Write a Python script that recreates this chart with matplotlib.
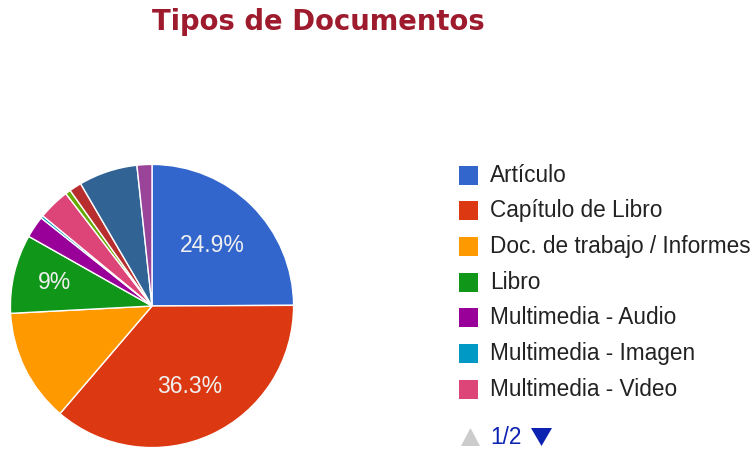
import numpy as np
import matplotlib.pyplot as plt
from matplotlib.patches import Rectangle, Polygon

# Datos del gráfico
categorias = ["Artículo", "Capítulo de Libro", "Doc. de trabajo / Informes", "Libro",
              "Multimedia - Audio", "Multimedia - Imagen", "Multimedia - Video"]
valores = [24.9, 36.3, 12.9, 9.0, 2.5, 0.3, 3.6]
# tipos de la segunda página de la leyenda
valores_pag2 = [0.6, 1.4, 6.7, 1.7]

colores = ["#3366cc", "#dc3912", "#ff9900", "#109618", "#990099", "#0099c6",
           "#dd4477", "#66aa00", "#b82e2e", "#316395", "#994499"]

# porcentaje que se escribe dentro de cada porción (None = sin etiqueta)
etiquetas = ["24.9%", "36.3%", None, "9%"]
dist_etiqueta = [0.60, 0.63, 0.0, 0.71]

W, H = 753, 449
fig = plt.figure(figsize=(W / 100, H / 100), dpi=100)

# Pastel
cx, cy, r = 152, 306, 143
ax = fig.add_axes([(cx - r) / W, (H - cy - r) / H, 2 * r / W, 2 * r / H])
todos = valores + valores_pag2
wedges, _ = ax.pie(todos, colors=colores[:len(todos)], startangle=90, counterclock=False,
                   wedgeprops=dict(edgecolor="white", linewidth=1.0))
ax.set_xlim(-1.01, 1.01)
ax.set_ylim(-1.01, 1.01)
ax.set_aspect("equal")
ax.axis("off")

total = sum(todos)
acum = 0
for i, v in enumerate(todos):
    medio = 90 - 360 * (acum + v / 2) / total
    acum += v
    if i < len(etiquetas) and etiquetas[i]:
        d = dist_etiqueta[i]
        ax.text(d * np.cos(np.radians(medio)), d * np.sin(np.radians(medio)), etiquetas[i],
                ha="center", va="center", color="#f0f0f0", fontsize=16.5,
                family="Liberation Sans")

# Título
fig.text(318 / W, 1 - 22 / H, "Tipos de Documentos", ha="center", va="center",
         fontsize=19.8, fontweight="bold", color="#9e1b2d", family="DejaVu Sans")

# Leyenda (página 1)
y0, paso, lado = 175, 35.7, 19
for i, nombre in enumerate(categorias):
    y = y0 + i * paso
    fig.patches.append(Rectangle((459 / W, 1 - (y + lado / 2) / H), lado / W, lado / H,
                                 transform=fig.transFigure, facecolor=colores[i],
                                 edgecolor="none"))
    fig.text(490 / W, 1 - y / H, nombre, ha="left", va="center", fontsize=16.3,
             color="#222222", family="Liberation Sans")

# Paginador
yp = 437
fig.patches.append(Polygon([[461 / W, 1 - (yp + 9) / H], [480 / W, 1 - (yp + 9) / H],
                            [470.5 / W, 1 - (yp - 9) / H]], closed=True,
                           transform=fig.transFigure, facecolor="#cccccc", edgecolor="none"))
fig.text(490 / W, 1 - yp / H, "1/2", ha="left", va="center", fontsize=16.3,
         color="#0c22b0", family="Liberation Sans")
fig.patches.append(Polygon([[531 / W, 1 - (yp - 9) / H], [552 / W, 1 - (yp - 9) / H],
                            [541.5 / W, 1 - (yp + 9) / H]], closed=True,
                           transform=fig.transFigure, facecolor="#0c22b0", edgecolor="none"))

fig.savefig("out.png", dpi=100)
